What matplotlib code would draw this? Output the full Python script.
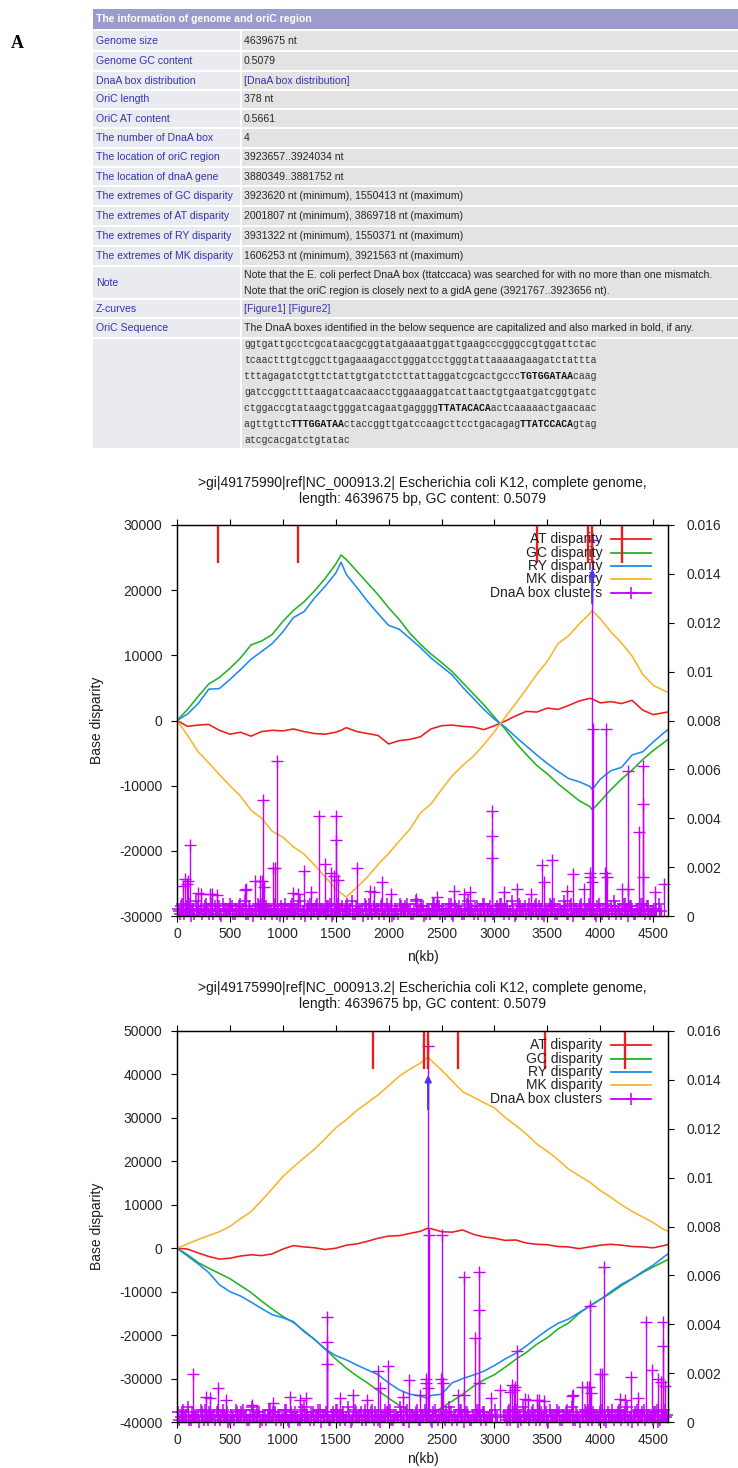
import numpy as np
import matplotlib
matplotlib.use("Agg")
import matplotlib.pyplot as plt
from matplotlib.patches import Rectangle

# ---------------------------------------------------------------- data
GENOME_KB = 4639.675
ROTATE_KB = 1550.413          # second panel starts at the GC-disparity maximum
ORIC_KB = 3923.8

TABLE_TITLE = "The information of genome and oriC region"
ROW_LABELS = ["Genome size", "Genome GC content", "DnaA box distribution", "OriC length",
              "OriC AT content", "The number of DnaA box", "The location of oriC region",
              "The location of dnaA gene", "The extremes of GC disparity",
              "The extremes of AT disparity", "The extremes of RY disparity",
              "The extremes of MK disparity", "Note", "Z-curves", "OriC Sequence", ""]
ROW_VALUES = ["4639675 nt", "0.5079", "[DnaA box distribution]", "378 nt", "0.5661", "4",
              "3923657..3924034 nt", "3880349..3881752 nt",
              "3923620 nt (minimum), 1550413 nt (maximum)",
              "2001807 nt (minimum), 3869718 nt (maximum)",
              "3931322 nt (minimum), 1550371 nt (maximum)",
              "1606253 nt (minimum), 3921563 nt (maximum)",
              "", "[Figure1] [Figure2]",
              "The DnaA boxes identified in the below sequence are capitalized and also marked in bold, if any.",
              ""]
LINK_ROWS = [2, 13]
NOTE_LINES = ["Note that the E. coli perfect DnaA box (ttatccaca) was searched for with no more than one mismatch.",
              "Note that the oriC region is closely next to a gidA gene (3921767..3923656 nt)."]
SEQ_LINES = ["ggtgattgcctcgcataacgcggtatgaaaatggattgaagcccgggccgtggattctac",
             "tcaactttgtcggcttgagaaagacctgggatcctgggtattaaaaagaagatctattta",
             "tttagagatctgttctattgtgatctcttattaggatcgcactgcccTGTGGATAAcaag",
             "gatccggcttttaagatcaacaacctggaaaggatcattaactgtgaatgatcggtgatc",
             "ctggaccgtataagctgggatcagaatgaggggTTATACACAactcaaaaactgaacaac",
             "agttgttcTTTGGATAActaccggttgatccaagcttcctgacagagTTATCCACAgtag",
             "atcgcacgatctgtatac"]

PLOT_TITLE = (">gi|49175990|ref|NC_000913.2| Escherichia coli K12, complete genome,\n"
              "length: 4639675 bp, GC content: 0.5079")
LEGEND_LABELS = ["AT disparity", "GC disparity", "RY disparity", "MK disparity", "DnaA box clusters"]
X_TICKS = [0, 500, 1000, 1500, 2000, 2500, 3000, 3500, 4000, 4500]
P1_Y_TICKS = [-30000, -20000, -10000, 0, 10000, 20000, 30000]
P2_Y_TICKS = [-40000, -30000, -20000, -10000, 0, 10000, 20000, 30000, 40000, 50000]
Y2_TICKS = [0, 0.002, 0.004, 0.006, 0.008, 0.010, 0.012, 0.014, 0.016]
Y2_LABELS = ["0", "0.002", "0.004", "0.006", "0.008", "0.01", "0.012", "0.014", "0.016"]

# panel 1 curves (kb, base disparity)
P1_KB = [0, 100, 200, 300, 400, 500, 600, 700, 800, 900, 1000, 1100, 1200, 1300, 1400, 1500, 1550,
         1600, 1700, 1800, 1900, 2000, 2100, 2200, 2300, 2400, 2500, 2600, 2700, 2800, 2900, 3000,
         3100, 3200, 3300, 3400, 3500, 3600, 3700, 3800, 3900, 3924, 4000, 4100, 4200, 4300, 4400,
         4500, 4600, 4640]
P1_AT = [0, -900, -700, -600, -1500, -2100, -1800, -2400, -1700, -1500, -1600, -1300, -1700, -2000,
         -2100, -1800, -1500, -1100, -1700, -2000, -2300, -3600, -3100, -2900, -2500, -1300, -800,
         -700, -900, -1000, -1400, -800, -100, 700, 1400, 1300, 1900, 1700, 2300, 3000, 3400, 3300,
         2700, 2900, 2600, 3100, 1600, 900, 1200, 1300]
P1_GC = [0, 1700, 3700, 5600, 6600, 8000, 9600, 11600, 12200, 13200, 15200, 16900, 18200, 19900,
         21800, 24000, 25400, 24700, 22900, 21100, 19300, 17300, 15500, 13400, 11700, 10200, 8900,
         7500, 5800, 4100, 2400, 500, -1300, -3400, -5200, -6900, -8200, -9700, -11000, -12300,
         -13200, -13700, -12400, -10600, -9000, -7600, -6000, -4600, -3400, -2900]
P1_RY = [0, 1000, 2600, 4800, 4900, 6300, 7800, 9400, 10600, 11800, 13600, 15800, 16700, 18800,
         20600, 22600, 24300, 22400, 20400, 18300, 16400, 14600, 14000, 12600, 11200, 9600, 8300,
         7000, 5100, 3400, 1700, 200, -1000, -2500, -3900, -5300, -6600, -7800, -8900, -9400,
         -10100, -10600, -9000, -7700, -7200, -5300, -4800, -3300, -1900, -1400]
P1_MK = [0, -2300, -4800, -6500, -8300, -10000, -11600, -13800, -15000, -17000, -17900, -19400,
         -20500, -22200, -24000, -25800, -26500, -27100, -25600, -24000, -22100, -20400, -18500,
         -16700, -14200, -12800, -10600, -8500, -6900, -5500, -3700, -1700, 500, 2600, 4800, 7100,
         9100, 11800, 13000, 14800, 16400, 16900, 15600, 13600, 11900, 9900, 7100, 5400, 4600, 4300]

# panel 2 curves (genome re-started at the GC maximum)
P2_KB = [0, 100, 200, 300, 400, 500, 600, 700, 800, 900, 1000, 1100, 1200, 1300, 1400, 1500, 1600,
         1700, 1800, 1900, 2000, 2100, 2200, 2300, 2370, 2400, 2500, 2600, 2700, 2800, 2900, 3000,
         3100, 3200, 3300, 3400, 3500, 3600, 3700, 3800, 3900, 4000, 4100, 4200, 4300, 4400, 4500,
         4600, 4640]
P2_AT = [0, -200, -1100, -1900, -2500, -2300, -1800, -1500, -1700, -1300, -200, 600, 300, 100, -300,
         0, 700, 1000, 1600, 2300, 2800, 2900, 3400, 3900, 4600, 4500, 3800, 3700, 4200, 3200, 2600,
         2300, 1800, 1900, 1200, 900, 800, 400, 300, -100, 300, 700, 900, 700, 400, 300, 100, 600, 900]
P2_GC = [0, -1500, -3300, -4600, -5800, -7000, -8600, -10200, -12200, -14000, -15700, -17100, -19000,
         -21000, -23200, -25500, -27600, -29400, -31000, -32800, -34500, -36200, -37400, -38500,
         -39100, -38400, -36700, -35200, -33600, -31800, -30300, -29100, -27400, -25600, -24000,
         -22100, -20600, -18600, -17200, -15000, -13200, -11800, -10300, -8600, -7100, -5600, -4300,
         -3100, -2600]
P2_RY = [0, -1800, -3600, -5600, -8400, -10000, -11000, -12400, -13900, -15300, -16000, -16900,
         -19200, -21000, -23200, -24700, -25700, -26900, -28000, -29100, -31000, -32600, -33600,
         -34000, -34600, -33900, -33600, -31000, -30000, -29200, -28300, -27000, -25500, -24200,
         -22500, -20600, -18800, -17300, -16300, -14800, -13400, -11800, -10000, -8300, -7000,
         -5400, -3900, -2000, -1300]
P2_MK = [0, 1000, 2000, 2900, 3800, 5000, 6800, 8400, 11000, 13700, 16500, 18700, 20800, 22800,
         25200, 27700, 29600, 31700, 33500, 35300, 37400, 39600, 41200, 42600, 44000, 43300, 41000,
         38500, 36000, 34800, 33500, 32300, 30100, 28300, 26300, 24000, 22300, 20400, 18200, 16700,
         15200, 13300, 11700, 10000, 8500, 7200, 5900, 4300, 3900]

# DnaA box clusters (genome position in kb, density on the right axis, x1e-3)
CLUSTER_KB = [72, 91, 119, 230, 330, 648, 787, 810, 826, 926, 946, 1144, 1204, 1263, 1343, 1395,
              1454, 1482, 1502, 1502, 1522, 1700, 1820, 1859, 1939, 2018, 2257, 2455, 2614, 2714,
              2773, 2972, 2972, 2972, 3091, 3210, 3349, 3449, 3468, 3548, 3687, 3746, 3846, 3905,
              3905, 3925, 3925, 3933, 4044, 4052, 4064, 4203, 4263, 4263, 4362, 4402, 4402, 4402,
              4521, 4601, 60, 105, 200, 312, 375, 643, 737, 800, 909, 1098]
CLUSTER_VAL = [1.52, 1.31, 2.90, 0.90, 0.90, 1.10, 1.44, 4.74, 1.17, 1.96, 6.33, 0.90, 1.85, 0.97,
               4.08, 2.13, 1.76, 1.65, 4.08, 3.12, 1.48, 1.96, 1.04, 0.97, 1.38, 0.90, 0.70, 0.76,
               1.04, 0.90, 0.97, 4.28, 3.28, 2.36, 0.97, 1.10, 0.90, 2.10, 1.38, 2.29, 1.04, 1.72,
               1.10, 1.78, 1.58, 1.38, 15.4, 7.65, 1.78, 7.65, 1.58, 1.10, 5.94, 1.10, 3.42, 6.15,
               4.58, 1.58, 0.97, 1.31, 1.22, 1.42, 0.96, 0.88, 0.85, 1.08, 1.42, 1.42, 1.98, 0.93]
# the dense band of weak clusters along the bottom (kb, x1e-4)
BAND_KB = [5, 28, 47, 83, 98, 131, 152, 178, 211, 239, 262, 290, 318, 341, 369, 397, 420, 452, 478,
           501, 533, 560, 589, 611, 640, 668, 694, 722, 751, 779, 803, 832, 858, 887, 912, 941, 969,
           995, 1021, 1050, 1078, 1103, 1131, 1160, 1187, 1213, 1240, 1268, 1297, 1322, 1350, 1378,
           1405, 1431, 1460, 1489, 1515, 1542, 1570, 1598, 1624, 1651, 1679, 1707, 1733, 1761, 1790,
           1816, 1843, 1871, 1899, 1925, 1953, 1981, 2008, 2035, 2062, 2090, 2118, 2145, 2172, 2200,
           2227, 2255, 2282, 2310, 2337, 2365, 2392, 2420, 2447, 2475, 2502, 2530, 2557, 2585, 2612,
           2640, 2667, 2695, 2722, 2750, 2777, 2805, 2832, 2860, 2887, 2915, 2942, 2970, 2997, 3025,
           3052, 3080, 3107, 3135, 3162, 3190, 3217, 3245, 3272, 3300, 3327, 3355, 3382, 3410, 3437,
           3465, 3492, 3520, 3547, 3575, 3602, 3630, 3657, 3685, 3712, 3740, 3767, 3795, 3822, 3850,
           3877, 3905, 3932, 3960, 3987, 4015, 4042, 4070, 4097, 4125, 4152, 4180, 4207, 4235, 4262,
           4290, 4317, 4345, 4372, 4400, 4427, 4455, 4482, 4510, 4537, 4565, 4592, 4620, 4635]
BAND_VAL = [3, 1, 5, 2, 4, 0, 3, 6, 2, 1, 4, 3, 5, 1, 2, 4, 0, 3, 2, 5, 1, 3, 4, 2, 6, 1, 3, 0, 2, 4,
            5, 1, 3, 2, 4, 1, 0, 3, 5, 2, 4, 1, 3, 6, 2, 0, 4, 1, 3, 5, 2, 3, 1, 4, 0, 2, 5, 3, 1, 4,
            2, 6, 1, 3, 2, 0, 4, 5, 1, 2, 3, 4, 1, 5, 2, 0, 3, 1, 4, 2, 5, 3, 1, 6, 2, 4, 0, 3, 1, 5,
            2, 4, 3, 1, 2, 5, 0, 3, 4, 1, 2, 6, 3, 1, 4, 2, 5, 0, 3, 2, 1, 4, 5, 2, 3, 1, 6, 0, 2, 4,
            3, 1, 5, 2, 4, 1, 3, 0, 2, 5, 4, 1, 3, 2, 6, 1, 4, 0, 3, 2, 5, 1, 3, 4, 2, 0, 5, 1, 3, 2,
            4, 6, 1, 3, 2, 5, 0, 4, 1, 3, 2, 5, 1, 4, 2, 3]
BAND2_KB = [16, 38, 62, 90, 115, 141, 165, 193, 224, 251, 276, 304, 330, 355, 383, 409, 436, 465, 490,
            517, 546, 574, 600, 626, 654, 681, 708, 736, 765, 791, 818, 845, 872, 899, 926, 955, 982,
            1008, 1036, 1064, 1090, 1117, 1145, 1173, 1200, 1226, 1254, 1282, 1309, 1336, 1364, 1391,
            1418, 1445, 1474, 1502, 1528, 1556, 1584, 1611, 1637, 1665, 1693, 1720, 1747, 1775, 1803,
            1830, 1857, 1885, 1912, 1939, 1967, 1994, 2021, 2049, 2076, 2104, 2131, 2158, 2186, 2213,
            2241, 2268, 2296, 2323, 2351, 2378, 2406, 2433, 2461, 2488, 2516, 2543, 2571, 2598, 2626,
            2653, 2681, 2708, 2736, 2763, 2791, 2818, 2846, 2873, 2901, 2928, 2956, 2983, 3011, 3038,
            3066, 3093, 3121, 3148, 3176, 3203, 3231, 3258, 3286, 3313, 3341, 3368, 3396, 3423, 3451,
            3478, 3506, 3533, 3561, 3588, 3616, 3643, 3671, 3698, 3726, 3753, 3781, 3808, 3836, 3863,
            3891, 3918, 3946, 3973, 4001, 4028, 4056, 4083, 4111, 4138, 4166, 4193, 4221, 4248, 4276,
            4303, 4331, 4358, 4386, 4413, 4441, 4468, 4496, 4523, 4551, 4578, 4606, 4628]
BAND2_VAL = [2, 4, 1, 3, 5, 2, 1, 4, 3, 2, 5, 1, 3, 4, 2, 1, 5, 3, 2, 4, 1, 2, 5, 3, 1, 4, 2, 3, 5, 1,
             2, 4, 3, 1, 5, 2, 4, 3, 1, 2, 5, 3, 4, 1, 2, 3, 5, 2, 4, 1, 3, 2, 4, 5, 1, 3, 2, 4, 2, 5,
             3, 1, 4, 2, 3, 5, 1, 2, 4, 3, 1, 5, 2, 3, 4, 1, 2, 5, 3, 4, 2, 1, 3, 5, 2, 4, 1, 3, 2, 5,
             4, 1, 3, 2, 5, 1, 4, 3, 2, 1, 5, 3, 2, 4, 1, 3, 5, 2, 4, 1, 2, 3, 5, 1, 4, 2, 3, 1, 5, 2,
             4, 3, 1, 2, 5, 4, 1, 3, 2, 4, 5, 1, 3, 2, 4, 1, 5, 3, 2, 4, 1, 2, 5, 3, 1, 4, 2, 3, 5, 1,
             2, 4, 3, 1, 5, 2, 4, 3, 1, 2, 5, 3, 4, 1, 2, 3, 5, 2]
# red marks hanging from the top border (kb)
RED_MARK_KB = [389, 1144, 3400, 3882, 3924, 4202]

# ---------------------------------------------------------------- style
W, H = 738, 1468
RED, GREEN, BLUE, ORANGE = "#ec1d1d", "#22b322", "#1f8af0", "#f7b52c"
MAG, ARROW = "#c400ff", "#5530f2"
HEADER_BG, LABEL_BG, VALUE_BG = "#9b9bce", "#eaeaf1", "#e3e3e3"
LABEL_FG, VALUE_FG = "#3434ae", "#262626"
AX_L, AX_R = 177, 668
plt.rcParams["font.family"] = ["Liberation Sans", "DejaVu Sans"]

fig = plt.figure(figsize=(W / 100, H / 100), dpi=100)
bg = fig.add_axes([0, 0, 1, 1])
bg.set_xlim(0, W)
bg.set_ylim(H, 0)
bg.axis("off")

def fx(px):
    return px / W

def fy(py):
    return 1 - py / H

# ---------------------------------------------------------------- table
TFS = 7.6
bg.text(17, 43, "A", family="Liberation Serif", weight="bold", fontsize=13, ha="center", va="center")
bg.add_patch(Rectangle((93, 9), 645, 20, color=HEADER_BG, lw=0))
bg.text(96, 19.5, TABLE_TITLE, color="white", weight="bold", fontsize=TFS, va="center")
ROW_EDGES = [31, 52, 72, 91, 110, 129, 149, 168, 187, 207, 227, 247, 267, 300, 319, 339, 450]
for i, (lab, val) in enumerate(zip(ROW_LABELS, ROW_VALUES)):
    top, nxt = ROW_EDGES[i], ROW_EDGES[i + 1]
    h = nxt - top - 2
    bg.add_patch(Rectangle((93, top), 147, h, color=LABEL_BG, lw=0))
    bg.add_patch(Rectangle((242, top), 496, h, color=VALUE_BG, lw=0))
    cy = top + h / 2
    if lab:
        bg.text(96, cy, lab, color=LABEL_FG, fontsize=TFS, va="center")
    if val:
        bg.text(244, cy, val, color=LABEL_FG if i in LINK_ROWS else VALUE_FG,
                fontsize=TFS, va="center")
    if lab == "Note":
        for k, line in enumerate(NOTE_LINES):
            bg.text(244, top + 8 + k * 16.5, line, color=VALUE_FG, fontsize=TFS, va="center")
    if i == len(ROW_LABELS) - 1:
        for k, line in enumerate(SEQ_LINES):
            low = "".join(c if c.islower() else " " for c in line)
            up = "".join(c if c.isupper() else " " for c in line)
            yy = top + 5 + k * 16
            bg.text(244, yy, low, family="Liberation Mono", fontsize=7.0, color="#333333", va="center")
            bg.text(244, yy, up, family="Liberation Mono", fontsize=7.0, weight="bold",
                    color="#111111", va="center")

# ---------------------------------------------------------------- panels
LEG_Y = [0.963, 0.929, 0.895, 0.861, 0.827]
LEG_COLORS = [RED, GREEN, BLUE, ORANGE, MAG]


def panel(top, bot, title_y, xlabel_y, kb, at, gc, ry, mk, ylim, yticks,
          cl_kb, cl_val, bands, red_kb, oric_kb):
    ax = fig.add_axes([fx(AX_L), fy(bot), (AX_R - AX_L) / W, (bot - top) / H])
    ax.set_xlim(0, GENOME_KB)
    ax.set_ylim(*ylim)
    for ys, c in zip([at, gc, ry, mk], [RED, GREEN, BLUE, ORANGE]):
        ax.plot(kb, ys, color=c, lw=1.15)
    ax.set_xticks(X_TICKS)
    ax.set_xticklabels([str(v) for v in X_TICKS])
    ax.set_yticks(yticks)
    ax.set_yticklabels([str(v) for v in yticks])
    ax.tick_params(axis="x", which="both", top=True, direction="out", length=4, width=0.8,
                   labelsize=10, pad=4, labelcolor="#262626")
    ax.tick_params(axis="y", direction="out", length=4, width=0.8, labelsize=10, pad=6.5,
                   labelcolor="#262626")
    for s in ax.spines.values():
        s.set_linewidth(0.9)

    axr = ax.twinx()
    axr.set_ylim(0, 0.016)
    axr.set_yticks(Y2_TICKS)
    axr.set_yticklabels(Y2_LABELS)
    axr.tick_params(axis="y", direction="out", length=4, width=0.8, labelsize=10, pad=9.5,
                    labelcolor="#262626")
    for s in axr.spines.values():
        s.set_linewidth(0.9)

    # legend (drawn first so that marks lie over it)
    for yy, lab, c in zip(LEG_Y, LEGEND_LABELS, LEG_COLORS):
        axr.text(0.866, yy, lab, transform=axr.transAxes, ha="right", va="center",
                 fontsize=10, color="#222222")
        axr.plot([0.884, 0.966], [yy, yy], transform=axr.transAxes, color=c, lw=1.3)
    axr.plot([0.925], [LEG_Y[-1]], transform=axr.transAxes, marker="+", ms=9, mew=1.1, color=MAG)

    for band_kb, band_val in bands:
        n = min(len(band_kb), len(band_val))
        bkb = np.asarray(band_kb[:n], float)
        bval = np.asarray(band_val[:n], float) * 1e-4
        axr.vlines(bkb, 0, bval, colors=MAG, lw=1.0)
        axr.plot(bkb, bval, ls="none", marker="+", ms=8.5, mew=1.1, color=MAG, clip_on=False)
    ckb = np.asarray(cl_kb, float)
    cval = np.asarray(cl_val, float) * 1e-3
    axr.vlines(ckb, 0, cval, colors=MAG, lw=1.0)
    axr.plot(ckb, cval, ls="none", marker="+", ms=8, mew=1.0, color=MAG, clip_on=False)
    axr.vlines(red_kb, 0.01445, 0.016, colors=RED, lw=1.7)
    axr.annotate("", xy=(oric_kb, 0.0142), xytext=(oric_kb, 0.0128),
                 arrowprops=dict(arrowstyle="-|>", color=ARROW, lw=1.6, mutation_scale=9,
                                 shrinkA=0, shrinkB=0))

    xc = fx((AX_L + AX_R) / 2)
    fig.text(xc, fy(title_y), PLOT_TITLE, ha="center", va="center", fontsize=10,
             linespacing=1.12, color="#1a1a1a")
    fig.text(xc, fy(xlabel_y), "n(kb)", ha="center", va="center", fontsize=10, color="#1a1a1a")
    fig.text(fx(97), fy((top + bot) / 2), "Base disparity", rotation=90, ha="center",
             va="center", fontsize=10, color="#1a1a1a")
    return ax, axr


panel(525, 916, 491, 957, P1_KB, P1_AT, P1_GC, P1_RY, P1_MK, (-30000, 30000), P1_Y_TICKS,
      CLUSTER_KB, CLUSTER_VAL, [(BAND_KB, BAND_VAL), (BAND2_KB, BAND2_VAL)], RED_MARK_KB, ORIC_KB)


def rotate(values):
    return np.mod(np.asarray(values, float) - ROTATE_KB, GENOME_KB)


panel(1031, 1422, 996, 1459, P2_KB, P2_AT, P2_GC, P2_RY, P2_MK, (-40000, 50000), P2_Y_TICKS,
      rotate(CLUSTER_KB), CLUSTER_VAL,
      [(rotate(BAND_KB), BAND_VAL), (rotate(BAND2_KB), BAND2_VAL)], rotate(RED_MARK_KB),
      float(rotate([ORIC_KB])[0]))

fig.savefig("out.png", dpi=100)
